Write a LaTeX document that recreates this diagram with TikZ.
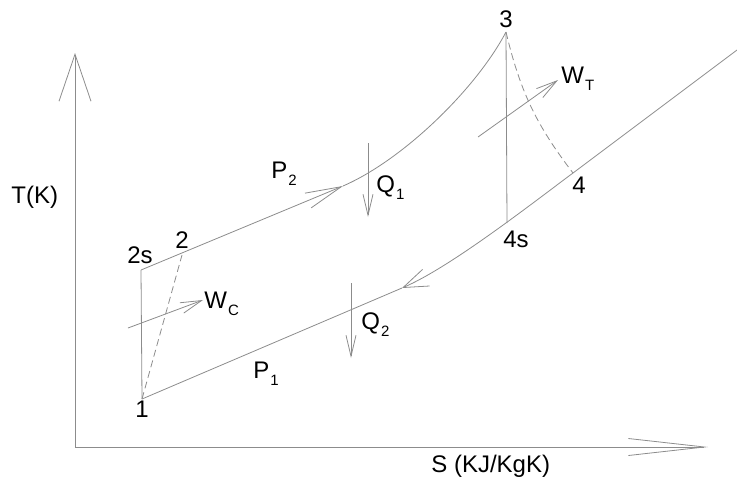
\documentclass[tikz,border=0pt]{standalone}
\usepackage{fontspec}
\setmainfont{Liberation Sans}
\usetikzlibrary{arrows.meta, calc}
\definecolor{lineGray}{RGB}{140,140,140}
\newcommand{\lowidx}[1]{\kern1pt\raisebox{-7pt}{\fontsize{15}{15}\selectfont #1}}

\begin{document}
\begin{tikzpicture}[x=1pt, y=-1pt, line width=0.8pt,
  every node/.style={font=\fontsize{24}{28}\selectfont, inner sep=0pt},
  cyc/.style={draw=lineGray},
  isen/.style={draw=lineGray, dash pattern=on 7pt off 4pt},
  heat/.style={draw=lineGray, -{Straight Barb[length=21pt, width=10pt]}},
  work/.style={draw=lineGray, -{Straight Barb[length=21pt, width=11pt]}}]
  \useasboundingbox (0,0) rectangle (737,477);

  % axes
  \coordinate (O) at (75,447);
  \coordinate (ytip) at (75,53);
  \coordinate (xtip) at (708,447);
  \draw[cyc, -{Straight Barb[length=47pt, width=32pt]}] (O) -- (ytip);
  \draw[cyc, -{Straight Barb[length=76pt, width=17pt]}] (O) -- (xtip);
  \node[anchor=base west] (Tlab) at (11,203) {T(K)};
  \node[anchor=base west] (Slab) at (431,472) {S (KJ/KgK)};

  % state points
  \coordinate (s1) at (142,399);
  \coordinate (s2s) at (141,270);
  \coordinate (s2) at (182,255);
  \coordinate (s3) at (506,32);
  \coordinate (s4s) at (507,223);
  \coordinate (s4) at (573,173);
  \coordinate (p2tip) at (343,186);
  \coordinate (p1tip) at (402,288);
  \coordinate (lowend) at (737,50);

  % upper line P2
  \draw[cyc, -{Straight Barb[length=36pt, width=16pt]}] (s2s) -- (p2tip);
  \draw[cyc] (p2tip) .. controls (403,160) and (476,89) .. (s3);
  % lower line P1
  \draw[cyc] (lowend) -- (s4);
  \draw[cyc, -{Straight Barb[length=25pt, width=18pt]}] (s4) .. controls (530,205) and (450,267.5) .. (p1tip);
  \draw[cyc] (p1tip) -- (s1);
  % compression and expansion
  \draw[cyc] (s1) -- (s2s);
  \draw[isen] (s1) -- (s2);
  \draw[cyc] (s3) -- (s4s);
  \draw[isen] (s3) to[bend right=12] (s4);

  % heat and work
  \coordinate (q1a) at (368,143);
  \coordinate (q1b) at (368,217);
  \coordinate (q2a) at (351,283);
  \coordinate (q2b) at (351,358);
  \coordinate (wca) at (128,328);
  \coordinate (wcb) at (203,300);
  \coordinate (wta) at (478,137);
  \coordinate (wtb) at (558,80);
  \draw[heat] (q1a) -- (q1b);
  \draw[heat] (q2a) -- (q2b);
  \draw[work] (wca) -- (wcb);
  \draw[work] (wta) -- (wtb);

  % labels
  \node[anchor=base] (l1) at (142,417) {1};
  \node[anchor=base] (l2s) at (140,263) {2s};
  \node[anchor=base] (l2) at (182,248) {2};
  \node[anchor=base] (l3) at (506,27) {3};
  \node[anchor=base] (l4) at (579,193) {4};
  \node[anchor=base] (l4s) at (516,247) {4s};
  \node[anchor=base west] (lP1) at (253,378) {P\lowidx{1}};
  \node[anchor=base west] (lP2) at (271,178) {P\lowidx{2}};
  \node[anchor=base west] (lQ1) at (376,192) {Q\lowidx{1}};
  \node[anchor=base west] (lQ2) at (361,329) {Q\lowidx{2}};
  \node[anchor=base west] (lWC) at (204,308) {W\lowidx{C}};
  \node[anchor=base west] (lWT) at (561,83) {W\lowidx{T}};
\end{tikzpicture}
\end{document}
